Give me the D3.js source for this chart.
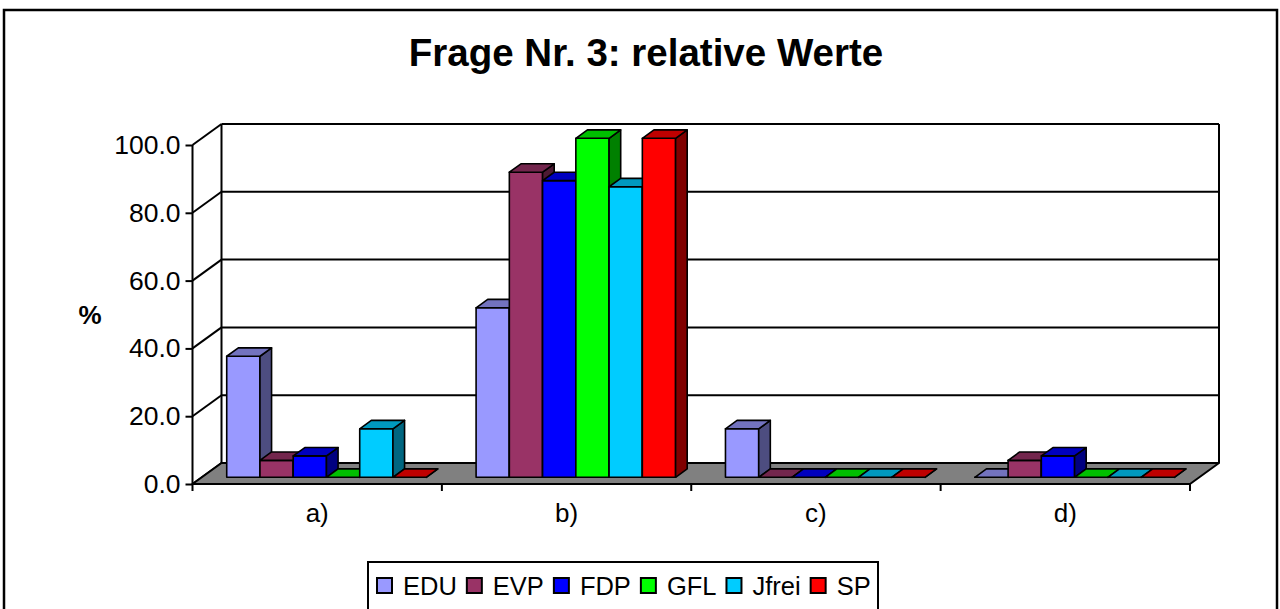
<!DOCTYPE html>
<html lang="en">
	<head>
		<meta charset="utf-8">
		<title>Frage Nr. 3: relative Werte</title>
		<script type="text/javascript" src="https://cdn.jsdelivr.net/npm/d3@7"></script>
		<style type="text/css">
			body { margin: 0; background: #fff; }
			text { font-family: "Liberation Sans", Arial, sans-serif; }
		</style>
	</head>
	<body>
		<script type="text/javascript">

			// data (percent per answer)
			var categories = ["a)", "b)", "c)", "d)"];
			var seriesNames = ["EDU", "EVP", "FDP", "GFL", "Jfrei", "SP"];
			var seriesColors = ["#9999FF", "#993366", "#0000FF", "#00FF00", "#00CCFF", "#FF0000"];
			var eduValues = [35.7, 50.0, 14.3, 0];
			var evpValues = [5.0, 90.0, 0, 5.0];
			var fdpValues = [6.3, 87.5, 0, 6.3];
			var gflValues = [0, 100, 0, 0];
			var jfreiValues = [14.3, 85.7, 0, 0];
			var spValues = [0, 100, 0, 0];
			var yTicks = [0, 20, 40, 60, 80, 100];

			var allValues = [eduValues, evpValues, fdpValues, gflValues, jfreiValues, spValues];

			var w = 1280;
			var h = 609;

			// front plane of the 3d box, plus the depth offset
			var plotLeft = 192.5, plotRight = 1190, plotBottom = 484, plotTop = 145;
			var dx = 29, dy = 21;
			var f0 = 0.32, f1 = 0.72;   // bars sit between these depth fractions

			var svg = d3.select("body")
						.append("svg")
						.attr("width", w)
						.attr("height", h);

			// outer frame
			svg.append("rect")
			   .attr("x", 4).attr("y", 10)
			   .attr("width", 1273).attr("height", 700)
			   .attr("fill", "white")
			   .attr("stroke", "black")
			   .attr("stroke-width", 2.5);

			svg.append("text")
			   .attr("x", 646).attr("y", 66)
			   .attr("text-anchor", "middle")
			   .attr("font-size", "38.5px")
			   .attr("font-weight", "bold")
			   .text("Frage Nr. 3: relative Werte");

			var x0 = d3.scaleBand()
					   .domain(categories)
					   .range([plotLeft, plotRight]);

			var x1 = d3.scaleBand()
					   .domain(seriesNames)
					   .range([0, x0.bandwidth()])
					   .paddingInner(0)
					   .paddingOuter(0.75);

			var yScale = d3.scaleLinear()
						   .domain([0, 100])
						   .range([plotBottom, plotTop]);

			function pt(x, y, f) {
				return [x + f * dx, y - f * dy];
			}

			var grid = svg.append("g")
						  .attr("stroke", "black")
						  .attr("stroke-width", 2)
						  .attr("fill", "none");

			// back wall gridlines
			grid.selectAll("line.back")
				.data(yTicks.filter(function(d) { return d > 0; }))
				.enter()
				.append("line")
				.attr("x1", plotLeft + dx)
				.attr("x2", plotRight + dx)
				.attr("y1", function(d) { return yScale(d) - dy; })
				.attr("y2", function(d) { return yScale(d) - dy; });

			// side wall diagonals
			grid.selectAll("line.side")
				.data(yTicks)
				.enter()
				.append("line")
				.attr("x1", plotLeft)
				.attr("x2", plotLeft + dx)
				.attr("y1", function(d) { return yScale(d); })
				.attr("y2", function(d) { return yScale(d) - dy; });

			// back wall edges
			grid.append("line")
				.attr("x1", plotLeft + dx).attr("x2", plotLeft + dx)
				.attr("y1", yScale(100) - dy).attr("y2", yScale(0) - dy);
			grid.append("line")
				.attr("x1", plotRight + dx).attr("x2", plotRight + dx)
				.attr("y1", yScale(100) - dy).attr("y2", yScale(0) - dy);

			// floor
			var floorPts = [[plotLeft, plotBottom], [plotRight, plotBottom], pt(plotRight, plotBottom, 1), pt(plotLeft, plotBottom, 1)];
			svg.append("polygon")
			   .attr("points", floorPts.map(function(p) { return p.join(","); }).join(" "))
			   .attr("fill", "#808080")
			   .attr("stroke", "black")
			   .attr("stroke-width", 2)
			   .attr("stroke-linejoin", "round");

			function shade(c, k) {
				var rgb = d3.rgb(c);
				return d3.rgb(rgb.r * k, rgb.g * k, rgb.b * k).formatHex();
			}

			// bars, left to right so each front face hides the previous side face
			var bars = [];
			categories.forEach(function(cat, ci) {
				seriesNames.forEach(function(s, si) {
					bars.push({cat: cat, series: s, si: si, value: allValues[si][ci]});
				});
			});

			var barG = svg.append("g");
			bars.forEach(function(d) {
				var xa = x0(d.cat) + x1(d.series);
				var xb = xa + x1.bandwidth();
				var yv = yScale(d.value);
				var col = seriesColors[d.si];
				var front = [pt(xa, plotBottom, f0), pt(xb, plotBottom, f0), pt(xb, yv, f0), pt(xa, yv, f0)];
				var topFace = [pt(xa, yv, f0), pt(xb, yv, f0), pt(xb, yv, f1), pt(xa, yv, f1)];
				var side = [pt(xb, plotBottom, f0), pt(xb, plotBottom, f1), pt(xb, yv, f1), pt(xb, yv, f0)];
				[[front, col], [side, shade(col, 0.5)], [topFace, shade(col, 0.75)]].forEach(function(face) {
					barG.append("polygon")
						.attr("points", face[0].map(function(p) { return p.join(","); }).join(" "))
						.attr("fill", face[1])
						.attr("stroke", "black")
						.attr("stroke-width", 1.6)
						.attr("stroke-linejoin", "round");
				});
			});

			// front value axis
			var yAxis = d3.axisLeft(yScale)
						  .tickValues(yTicks)
						  .tickSize(7)
						  .tickPadding(5)
						  .tickFormat(d3.format(".1f"));

			var yG = svg.append("g")
						.attr("transform", "translate(" + plotLeft + ",0)")
						.call(yAxis);
			yG.select(".domain").attr("stroke", "black").attr("stroke-width", 2).attr("d", "M0," + plotTop + "V" + plotBottom);
			yG.selectAll(".tick line").attr("stroke-width", 2);
			yG.selectAll(".tick text")
			  .attr("font-size", "26.5px")
			  .attr("font-family", "'Liberation Sans', Arial, sans-serif")
			  .attr("fill", "black");

			svg.append("text")
			   .attr("x", 90).attr("y", 324)
			   .attr("text-anchor", "middle")
			   .attr("font-size", "26px")
			   .attr("font-weight", "bold")
			   .text("%");

			// category ticks at the band boundaries, labels at centres
			var bounds = categories.map(function(c) { return x0(c); }).concat([plotRight]);
			svg.selectAll("line.ctick")
			   .data(bounds)
			   .enter()
			   .append("line")
			   .attr("x1", function(d) { return d; })
			   .attr("x2", function(d) { return d; })
			   .attr("y1", plotBottom)
			   .attr("y2", plotBottom + 7)
			   .attr("stroke", "black")
			   .attr("stroke-width", 2);

			svg.selectAll("text.cat")
			   .data(categories)
			   .enter()
			   .append("text")
			   .attr("x", function(d) { return x0(d) + x0.bandwidth() / 2; })
			   .attr("y", 522)
			   .attr("text-anchor", "middle")
			   .attr("font-size", "26px")
			   .text(function(d) { return d; });

			// legend
			var legend = svg.append("g");
			legend.append("rect")
				  .attr("x", 368).attr("y", 562)
				  .attr("width", 510).attr("height", 70)
				  .attr("fill", "white")
				  .attr("stroke", "black")
				  .attr("stroke-width", 2);

			var lx = 377;
			seriesNames.forEach(function(s, i) {
				legend.append("rect")
					  .attr("x", lx).attr("y", 578)
					  .attr("width", 15).attr("height", 15)
					  .attr("fill", seriesColors[i])
					  .attr("stroke", "black")
					  .attr("stroke-width", 2);
				var t = legend.append("text")
							  .attr("x", lx + 26).attr("y", 595)
							  .attr("font-size", "25.5px")
							  .text(s);
				lx += 26 + t.node().getComputedTextLength() + 10;
			});

		</script>
	</body>
</html>
